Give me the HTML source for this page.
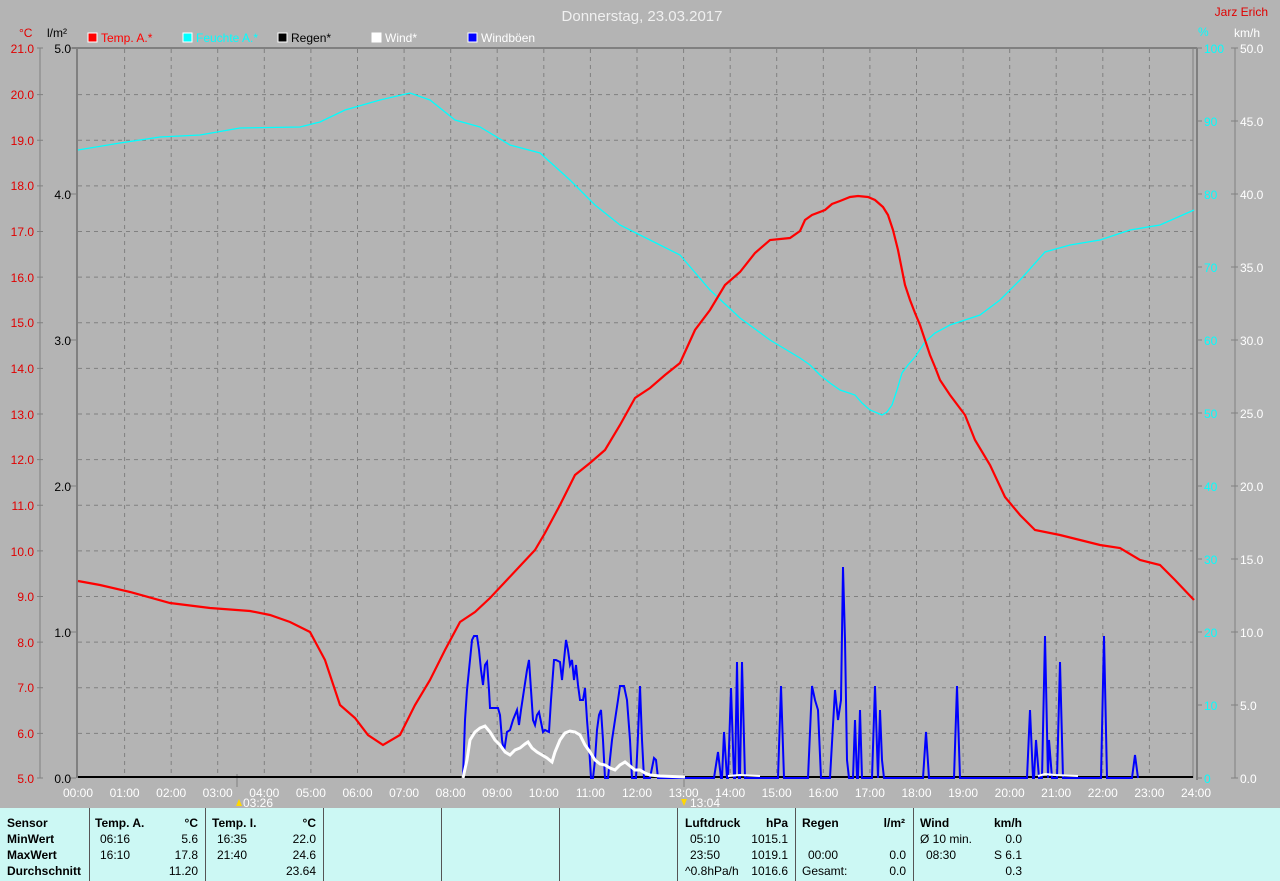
<!DOCTYPE html>
<html><head><meta charset="utf-8"><style>
body{margin:0;width:1280px;height:881px;background:#b4b4b4;overflow:hidden;font-family:"Liberation Sans",sans-serif}
svg{position:absolute;left:0;top:0}
.tb{position:absolute;left:0;top:808px;width:1280px;height:73px;background:#ccf8f4;font-size:12px}
.tb div{position:absolute;white-space:nowrap}
.b{font-weight:bold}
.vl{position:absolute;top:0;width:1px;height:73px;background:#555}
</style></head><body>
<svg width="1280" height="808" font-family="Liberation Sans, sans-serif" font-size="12">
<text x="642" y="21" fill="#f0f0f0" font-size="15" text-anchor="middle">Donnerstag, 23.03.2017</text>
<text x="1268" y="16" fill="#e00000" text-anchor="end">Jarz Erich</text>
<text x="19" y="37" fill="#e00000">°C</text>
<text x="47" y="37" fill="#000">l/m²</text>
<text x="1198" y="36" fill="#00ffff">%</text>
<text x="1234" y="37" fill="#fff">km/h</text>
<g font-size="12">
<rect x="88" y="33" width="9" height="9" fill="red" stroke="#fff"/><text x="101" y="42" fill="red">Temp. A.*</text>
<rect x="183" y="33" width="9" height="9" fill="cyan" stroke="#fff"/><text x="196" y="42" fill="cyan">Feuchte A.*</text>
<rect x="278" y="33" width="9" height="9" fill="#000" stroke="#fff"/><text x="291" y="42" fill="#000">Regen*</text>
<rect x="372" y="33" width="9" height="9" fill="#fff" stroke="#fff"/><text x="385" y="42" fill="#fff">Wind*</text>
<rect x="468" y="33" width="9" height="9" fill="#0000ff" stroke="#fff"/><text x="481" y="42" fill="#fff">Windböen</text>
</g>
<g stroke="#808080" stroke-dasharray="4,4" stroke-width="1">
<line x1="124.6" y1="49" x2="124.6" y2="777"/><line x1="171.2" y1="49" x2="171.2" y2="777"/><line x1="217.7" y1="49" x2="217.7" y2="777"/><line x1="264.3" y1="49" x2="264.3" y2="777"/><line x1="310.9" y1="49" x2="310.9" y2="777"/><line x1="357.5" y1="49" x2="357.5" y2="777"/><line x1="404.1" y1="49" x2="404.1" y2="777"/><line x1="450.7" y1="49" x2="450.7" y2="777"/><line x1="497.2" y1="49" x2="497.2" y2="777"/><line x1="543.8" y1="49" x2="543.8" y2="777"/><line x1="590.4" y1="49" x2="590.4" y2="777"/><line x1="637" y1="49" x2="637" y2="777"/><line x1="683.6" y1="49" x2="683.6" y2="777"/><line x1="730.2" y1="49" x2="730.2" y2="777"/><line x1="776.7" y1="49" x2="776.7" y2="777"/><line x1="823.3" y1="49" x2="823.3" y2="777"/><line x1="869.9" y1="49" x2="869.9" y2="777"/><line x1="916.5" y1="49" x2="916.5" y2="777"/><line x1="963.1" y1="49" x2="963.1" y2="777"/><line x1="1009.7" y1="49" x2="1009.7" y2="777"/><line x1="1056.2" y1="49" x2="1056.2" y2="777"/><line x1="1102.8" y1="49" x2="1102.8" y2="777"/><line x1="1149.4" y1="49" x2="1149.4" y2="777"/>
<line x1="78" x2="1193" y1="94.6" y2="94.6"/><line x1="78" x2="1193" y1="140.3" y2="140.3"/><line x1="78" x2="1193" y1="185.9" y2="185.9"/><line x1="78" x2="1193" y1="231.5" y2="231.5"/><line x1="78" x2="1193" y1="277.1" y2="277.1"/><line x1="78" x2="1193" y1="322.8" y2="322.8"/><line x1="78" x2="1193" y1="368.4" y2="368.4"/><line x1="78" x2="1193" y1="414" y2="414"/><line x1="78" x2="1193" y1="459.6" y2="459.6"/><line x1="78" x2="1193" y1="505.3" y2="505.3"/><line x1="78" x2="1193" y1="550.9" y2="550.9"/><line x1="78" x2="1193" y1="596.5" y2="596.5"/><line x1="78" x2="1193" y1="642.1" y2="642.1"/><line x1="78" x2="1193" y1="687.8" y2="687.8"/><line x1="78" x2="1193" y1="733.4" y2="733.4"/>
</g>
<line x1="72" y1="48" x2="1197" y2="48" stroke="#808080" stroke-width="2"/>
<line x1="77" y1="48" x2="77" y2="778" stroke="#808080" stroke-width="2"/>
<line x1="1193" y1="48" x2="1193" y2="778" stroke="#808080"/>
<line x1="1197" y1="48" x2="1197" y2="780" stroke="#808080" stroke-width="2"/>
<line x1="40" y1="48" x2="40" y2="778" stroke="#808080"/>
<line x1="1235" y1="48" x2="1235" y2="778" stroke="#808080"/>
<g stroke="#808080">
<path d="M37 48h6M37 94.6h6M37 140.3h6M37 185.9h6M37 231.5h6M37 277.1h6M37 322.8h6M37 368.4h6M37 414h6M37 459.6h6M37 505.3h6M37 550.9h6M37 596.5h6M37 642.1h6M37 687.8h6M37 733.4h6M37 778h6"/>
<path d="M70 48h6M70 194h6M70 340h6M70 486h6M70 632h6M70 778h6"/>
<path d="M1197 48h5M1197 121h5M1197 194h5M1197 267h5M1197 340h5M1197 413h5M1197 486h5M1197 559h5M1197 632h5M1197 705h5M1197 778h5"/>
<path d="M1231 48h7M1231 121h7M1231 194h7M1231 267h7M1231 340h7M1231 413h7M1231 486h7M1231 559h7M1231 632h7M1231 705h7M1231 778h7"/>
<path d="M237 774v13M684 774v13"/>
</g>
<g fill="#e00000" text-anchor="end">
<text x="34" y="53">21.0</text><text x="34" y="99">20.0</text><text x="34" y="145">19.0</text><text x="34" y="190">18.0</text><text x="34" y="236">17.0</text><text x="34" y="282">16.0</text><text x="34" y="327">15.0</text><text x="34" y="373">14.0</text><text x="34" y="419">13.0</text><text x="34" y="464">12.0</text><text x="34" y="510">11.0</text><text x="34" y="556">10.0</text><text x="34" y="601">9.0</text><text x="34" y="647">8.0</text><text x="34" y="692">7.0</text><text x="34" y="738">6.0</text><text x="34" y="783">5.0</text>
</g>
<g fill="#000" text-anchor="end">
<text x="71" y="53">5.0</text><text x="71" y="199">4.0</text><text x="71" y="345">3.0</text><text x="71" y="491">2.0</text><text x="71" y="637">1.0</text><text x="71" y="783">0.0</text>
</g>
<g fill="#00ffff">
<text x="1204" y="53">100</text><text x="1204" y="126">90</text><text x="1204" y="199">80</text><text x="1204" y="272">70</text><text x="1204" y="345">60</text><text x="1204" y="418">50</text><text x="1204" y="491">40</text><text x="1204" y="564">30</text><text x="1204" y="637">20</text><text x="1204" y="710">10</text><text x="1204" y="783">0</text>
</g>
<g fill="#fff">
<text x="1240" y="53">50.0</text><text x="1240" y="126">45.0</text><text x="1240" y="199">40.0</text><text x="1240" y="272">35.0</text><text x="1240" y="345">30.0</text><text x="1240" y="418">25.0</text><text x="1240" y="491">20.0</text><text x="1240" y="564">15.0</text><text x="1240" y="637">10.0</text><text x="1240" y="710">5.0</text><text x="1240" y="783">0.0</text>
</g>
<g fill="#fff" text-anchor="middle">
<text x="78" y="797">00:00</text><text x="124.6" y="797">01:00</text><text x="171.2" y="797">02:00</text><text x="217.7" y="797">03:00</text><text x="264.3" y="797">04:00</text><text x="310.9" y="797">05:00</text><text x="357.5" y="797">06:00</text><text x="404.1" y="797">07:00</text><text x="450.7" y="797">08:00</text><text x="497.2" y="797">09:00</text><text x="543.8" y="797">10:00</text><text x="590.4" y="797">11:00</text><text x="637" y="797">12:00</text><text x="683.6" y="797">13:00</text><text x="730.2" y="797">14:00</text><text x="776.7" y="797">15:00</text><text x="823.3" y="797">16:00</text><text x="869.9" y="797">17:00</text><text x="916.5" y="797">18:00</text><text x="963.1" y="797">19:00</text><text x="1009.7" y="797">20:00</text><text x="1056.2" y="797">21:00</text><text x="1102.8" y="797">22:00</text><text x="1149.4" y="797">23:00</text><text x="1196" y="797">24:00</text>
</g>
<polygon points="236,806 239,799 242,806" fill="#ffd800"/><text x="243" y="807" fill="#fff">03:26</text>
<polygon points="681,799 684,806 687,799" fill="#ffd800"/><text x="690" y="807" fill="#fff">13:04</text>
<line x1="78" y1="777" x2="1193" y2="777" stroke="#000" stroke-width="2"/>
<polyline fill="none" stroke="#00ffff" stroke-width="1.3" points="78,150 120,143 160,137 200,135 240,128 300,127 320,122 345,110 380,100 410,93 430,100 455,120 480,127 510,145 540,153 570,180 595,205 620,225 650,240 680,255 710,290 740,318 770,340 800,358 810,365 820,375 830,383 840,390 855,395 862,403 870,410 882,415 887,412 892,405 897,390 902,373 908,365 915,357 925,342 935,333 950,325 980,315 1000,300 1020,280 1045,252 1070,245 1100,240 1130,230 1160,225 1194,210"/>
<polyline fill="none" stroke="#0000ff" stroke-width="2" points="463,777 465,720 467,690 470,660 472,640 474,636 477,636 479,650 481,670 483,685 485,665 487,662 489,690 490,708 494,708 498,708 500,715 502,740 504,752 507,732 510,730 513,720 517,710 519,725 521,710 524,690 527,670 529,660 531,690 533,720 535,725 537,715 539,712 541,722 543,732 545,730 549,732 551,700 554,660 556,660 560,662 562,680 564,660 566,640 568,650 570,665 572,660 574,680 576,665 578,685 580,700 583,700 585,688 587,720 589,745 591,778 593,778 595,760 597,730 599,715 601,710 603,740 605,778 608,778 612,740 615,720 618,700 620,686 624,686 627,700 630,740 632,778 636,778 638,735 640,686 642,740 644,778 650,778 654,758 656,760 658,778 714,778 718,752 721,778 722,778 724,732 727,778 728,778 731,688 734,778 735,778 737,662 739,778 740,778 742,662 745,778 778,778 781,686 784,778 808,778 812,686 815,700 818,710 821,778 830,778 835,690 838,720 841,700 843,567 845,640 847,760 849,778 853,778 855,720 857,778 858,778 860,710 862,778 872,778 875,686 878,778 880,710 882,760 884,778 923,778 926,732 929,778 954,778 957,686 960,778 1027,778 1030,710 1033,778 1034,778 1036,740 1039,778 1042,778 1045,636 1048,778 1049,740 1052,778 1057,778 1060,662 1063,778 1101,778 1104,636 1107,778 1132,778 1135,755 1138,778"/>
<polyline fill="none" stroke="#fff" stroke-width="3" points="463,778 467,760 470,740 475,732 480,728 485,726 490,732 495,740 500,745 505,752 510,755 515,750 520,748 525,744 528,742 532,748 537,752 542,755 547,758 552,762 555,752 560,740 565,733 570,731 575,732 580,735 585,745 590,752 595,760 600,764 605,765 610,768 615,770 620,765 625,762 630,766 635,770 640,770 645,773 650,775 660,776 685,777"/>
<polyline fill="none" stroke="#fff" stroke-width="2" points="728,776 740,775 760,776"/>
<polyline fill="none" stroke="#fff" stroke-width="2" points="1038,776 1045,774 1055,775 1078,776"/>
<polyline fill="none" stroke="#f00" stroke-width="2.2" points="78,581 100,585 130,592 170,603 210,608 250,611 270,615 290,622 310,632 325,660 340,705 355,718 368,735 383,745 400,735 415,705 430,680 445,650 460,622 475,612 490,598 505,582 520,566 535,550 545,533 560,505 575,475 590,463 605,450 620,425 635,398 650,388 665,375 680,363 695,330 710,310 725,285 740,272 755,253 770,240 790,238 800,231 805,220 812,215 825,210 832,204 840,201 850,197 858,196 868,197 875,200 883,207 888,215 893,230 898,250 902,270 905,285 910,300 915,313 920,325 925,340 930,355 935,367 940,380 950,395 965,415 975,440 990,465 1005,497 1020,515 1035,530 1060,535 1080,540 1100,545 1120,548 1140,560 1160,565 1175,580 1194,600"/>
</svg>
<div class="tb">
<div class="vl" style="left:89px"></div><div class="vl" style="left:205px"></div><div class="vl" style="left:323px"></div><div class="vl" style="left:441px"></div><div class="vl" style="left:559px"></div><div class="vl" style="left:677px"></div><div class="vl" style="left:795px"></div><div class="vl" style="left:913px"></div>
<div class="b" style="left:7px;top:8px">Sensor</div><div class="b" style="left:7px;top:24px">MinWert</div><div class="b" style="left:7px;top:40px">MaxWert</div><div class="b" style="left:7px;top:56px">Durchschnitt</div>
<div class="b" style="left:95px;top:8px">Temp. A.</div><div class="b" style="right:1082px;top:8px">°C</div>
<div style="left:100px;top:24px">06:16</div><div style="right:1082px;top:24px">5.6</div>
<div style="left:100px;top:40px">16:10</div><div style="right:1082px;top:40px">17.8</div>
<div style="right:1082px;top:56px">11.20</div>
<div class="b" style="left:212px;top:8px">Temp. I.</div><div class="b" style="right:964px;top:8px">°C</div>
<div style="left:217px;top:24px">16:35</div><div style="right:964px;top:24px">22.0</div>
<div style="left:217px;top:40px">21:40</div><div style="right:964px;top:40px">24.6</div>
<div style="right:964px;top:56px">23.64</div>
<div class="b" style="left:685px;top:8px">Luftdruck</div><div class="b" style="right:492px;top:8px">hPa</div>
<div style="left:690px;top:24px">05:10</div><div style="right:492px;top:24px">1015.1</div>
<div style="left:690px;top:40px">23:50</div><div style="right:492px;top:40px">1019.1</div>
<div style="left:685px;top:56px">^0.8hPa/h</div><div style="right:492px;top:56px">1016.6</div>
<div class="b" style="left:802px;top:8px">Regen</div><div class="b" style="right:375px;top:8px">l/m²</div>
<div style="left:808px;top:40px">00:00</div><div style="right:374px;top:40px">0.0</div>
<div style="left:802px;top:56px">Gesamt:</div><div style="right:374px;top:56px">0.0</div>
<div class="b" style="left:920px;top:8px">Wind</div><div class="b" style="right:258px;top:8px">km/h</div>
<div style="left:920px;top:24px">Ø 10 min.</div><div style="right:258px;top:24px">0.0</div>
<div style="left:926px;top:40px">08:30</div><div style="right:258px;top:40px">S 6.1</div>
<div style="right:258px;top:56px">0.3</div>
</div>
</body></html>
